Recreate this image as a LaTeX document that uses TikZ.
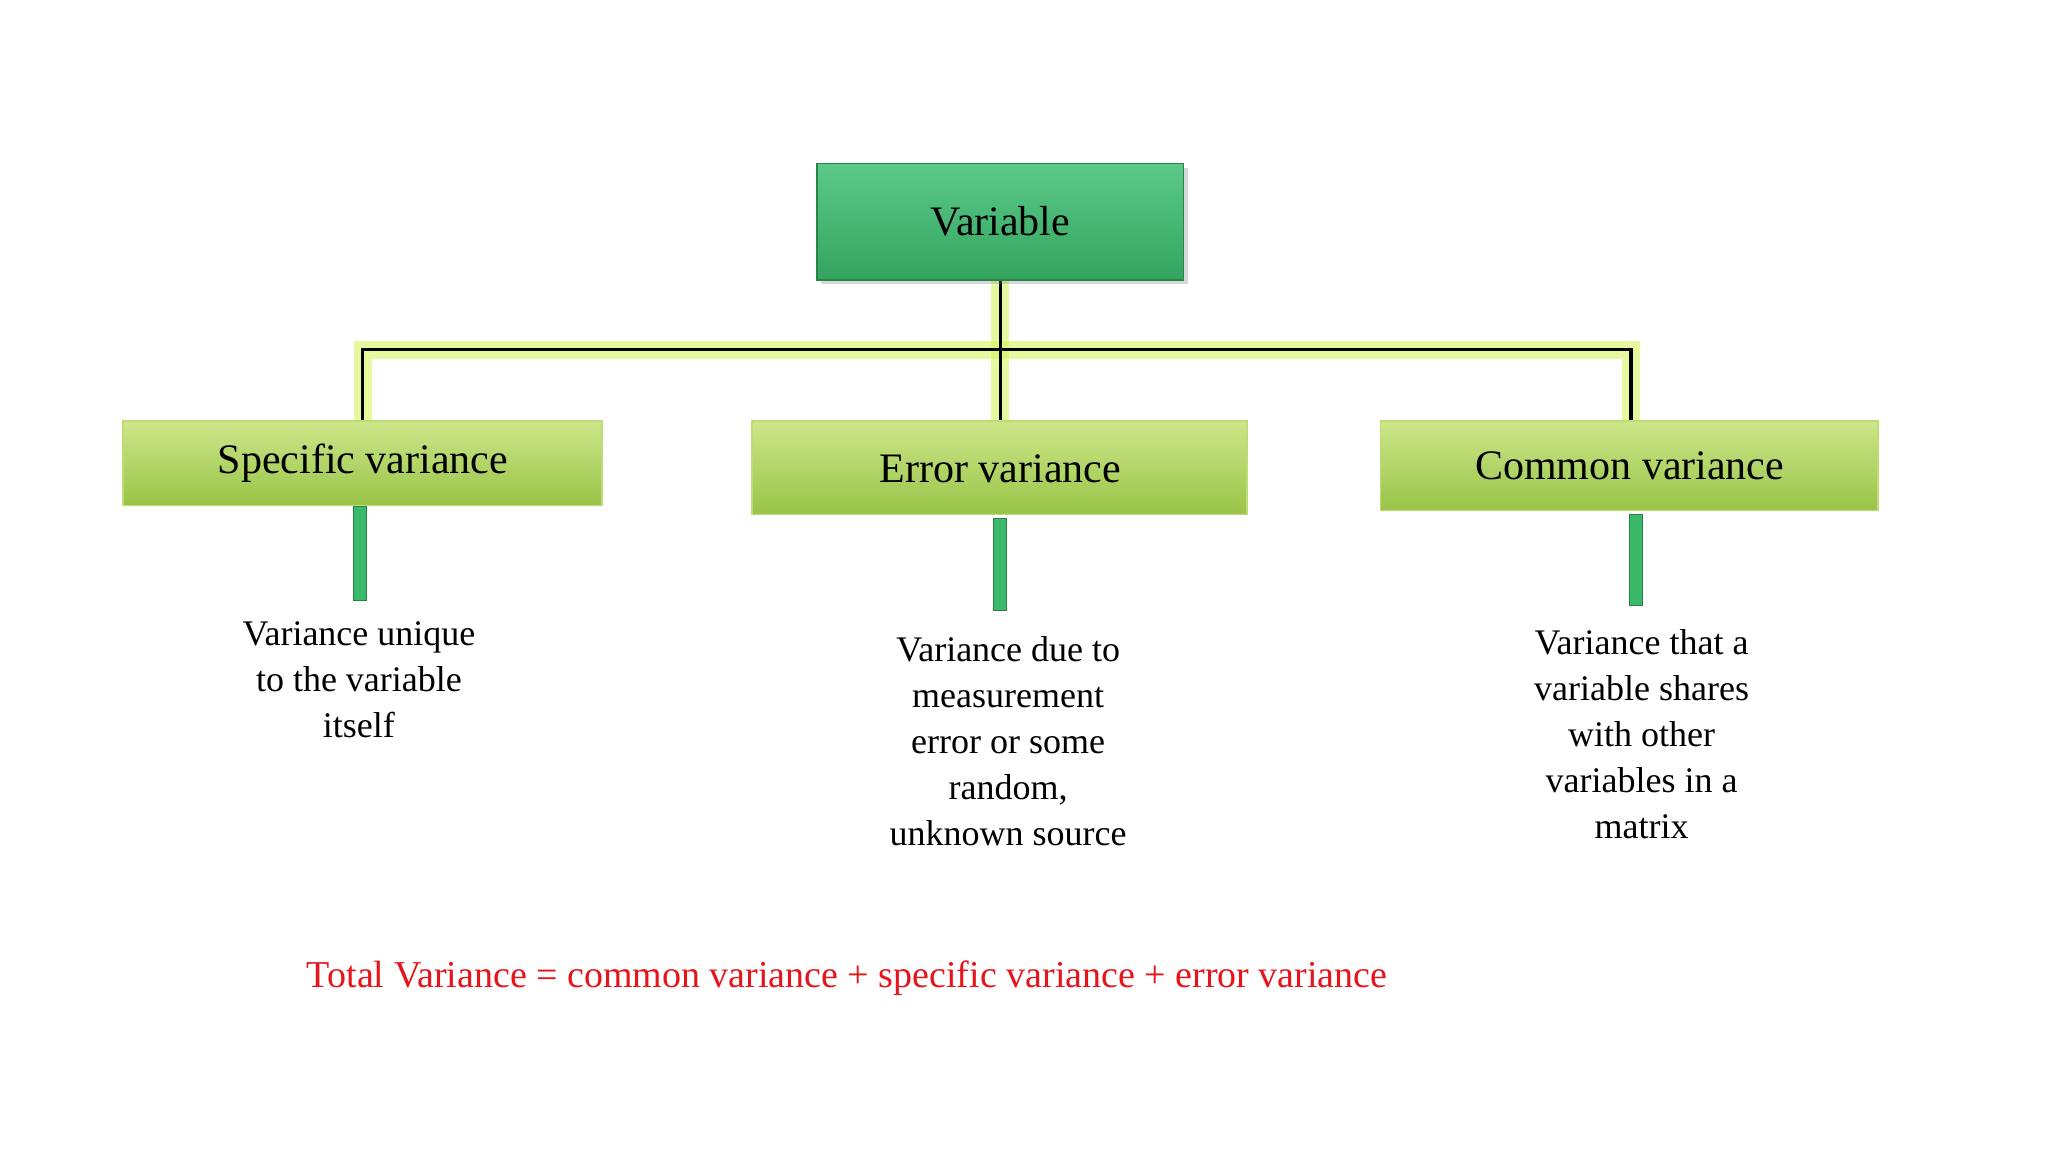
\documentclass[tikz,border=0pt]{standalone}
\usepackage{fontspec}
\setmainfont{Liberation Serif}
\usetikzlibrary{positioning,shadows}
\definecolor{vtop}{HTML}{5CC98A}
\definecolor{vbot}{HTML}{33A45E}
\definecolor{ltop}{HTML}{CDE68A}
\definecolor{lbot}{HTML}{98C447}
\definecolor{barg}{HTML}{3BB86A}
\definecolor{glow}{HTML}{D6F560}
\definecolor{redt}{HTML}{E8141B}
\begin{document}
\begin{tikzpicture}[x=0.66pt,y=-0.66pt,
  topbox/.style={draw=vbot!80!black,line width=0.8pt,top color=vtop,bottom color=vbot,drop shadow={opacity=0.3}},
  catbox/.style={draw=ltop!70!lbot,line width=0.8pt,top color=ltop,bottom color=lbot},
  bar/.style={fill=barg,draw=barg!70!black,line width=0.5pt},
  desc/.style={align=center,font=\fontsize{18}{23}\selectfont},
  head/.style={font=\fontsize{21}{25}\selectfont},
  conn/.style={line width=1.6pt,black},
  glowline/.style={line width=9pt,glow,opacity=0.6}]
\useasboundingbox (0,0) rectangle (1552,873);
\fill[white] (0,0) rectangle (1552,873);
\coordinate (vb) at (758,212);
\coordinate (hl) at (275,265);
\coordinate (hr) at (1236,265);
\coordinate (sl) at (275,319);
\coordinate (sm) at (758,319);
\coordinate (sr) at (1236,319);
\draw[glowline] (sl) -- (hl) -- (hr) -- (sr);
\draw[glowline] (vb) -- (sm);
\draw[conn] (sl) -- (hl) -- (hr) -- (sr);
\draw[conn] (vb) -- (sm);
\path[topbox] (619,124) rectangle (897,212);
\node[head] (var) at (758,168) {Variable};
\path[catbox] (93,319) rectangle (456,383);
\node[head] (spec) at (275,351) {Specific variance};
\path[catbox] (570,319) rectangle (945,390);
\node[head] (err) at (758,355) {Error variance};
\path[catbox] (1046,319) rectangle (1423,387);
\node[head] (com) at (1235,353) {Common variance};
\path[bar] (268,384) rectangle (278,455);
\path[bar] (753,393) rectangle (763,463);
\path[bar] (1235,390) rectangle (1245,459);
\node[desc,anchor=north] (d1) at (272,466) {Variance unique\\to the variable\\itself};
\node[desc,anchor=north] (d2) at (764,477) {Variance due to\\measurement\\error or some\\random,\\unknown source};
\node[desc,anchor=north] (d3) at (1244,472) {Variance that a\\variable shares\\with other\\variables in a\\matrix};
\node[text=redt,font=\fontsize{19}{23}\selectfont] (tot) at (642,741) {Total Variance = common variance + specific variance + error variance};
\end{tikzpicture}
\end{document}
